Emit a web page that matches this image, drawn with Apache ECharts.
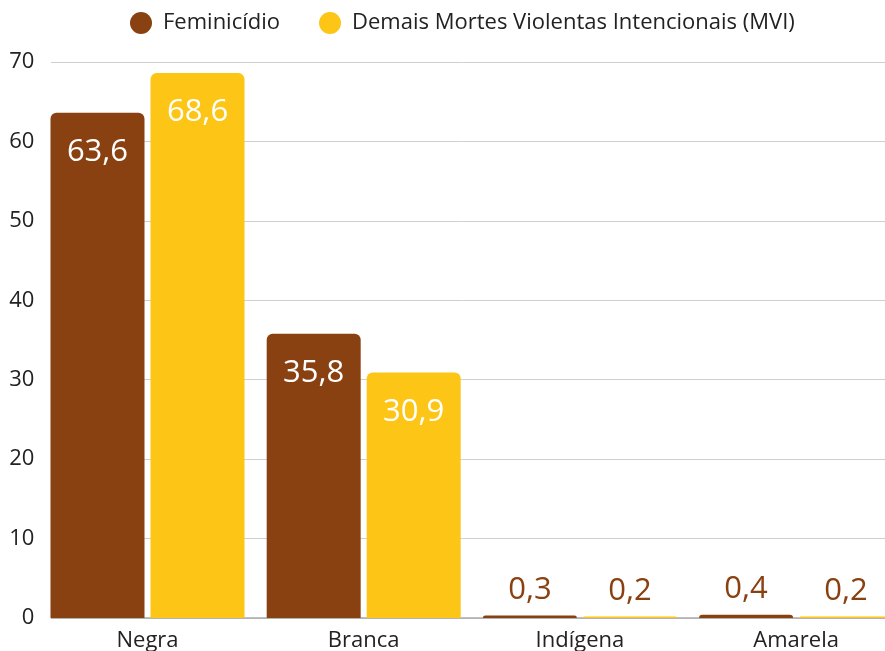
<!DOCTYPE html>
<html>
<head>
<meta charset="utf-8">
<script src="https://cdn.jsdelivr.net/npm/echarts@6/dist/echarts.min.js"></script>
<style>
  html, body { margin: 0; padding: 0; background: #fff; }
  #chart { width: 885px; height: 651px; }
</style>
</head>
<body>
<div id="chart"></div>
<script>
// Share of victims by race/colour (%)
const categories = ['Negra', 'Branca', 'Indígena', 'Amarela'];
const seriesNames = ['Feminicídio', 'Demais Mortes Violentas Intencionais (MVI)'];
const feminicidio = [63.6, 35.8, 0.3, 0.4];
const demaisMvi = [68.6, 30.9, 0.2, 0.2];
const yTicks = { min: 0, max: 70, interval: 10 };

const BROWN = '#8A4112';
const YELLOW = '#FDC516';
const fmt = v => String(v).replace('.', ',');

// Large bars get a white label inside the top; tiny bars get a brown label above
function buildData(values) {
  return values.map(v => {
    if (v >= 5) {
      return { value: v, label: { position: 'insideTop', distance: 24, color: '#fff' } };
    }
    return { value: v, label: { position: 'top', distance: 10, color: BROWN } };
  });
}

const labelBase = {
  show: true,
  fontFamily: 'Open Sans',
  fontSize: 31,
  formatter: p => fmt(p.value)
};

const chart = echarts.init(document.getElementById('chart'));
chart.setOption({
  animation: false,
  textStyle: { fontFamily: 'Open Sans' },
  legend: {
    top: 7,
    left: 125,
    icon: 'circle',
    itemWidth: 22,
    itemHeight: 22,
    itemGap: 39,
    textStyle: { fontSize: 22, color: '#222', padding: [0, 0, 0, 6] },
    data: seriesNames
  },
  // the plot runs past the right edge, so the last bar is cut off
  grid: { left: 39.4, right: -19.2, top: 62, bottom: 33, outerBoundsMode: 'none', containLabel: false },
  graphic: [{
    type: 'rect',
    z: 1,
    shape: { x: 38, y: 55, width: 13, height: 570 },
    style: { fill: '#fff' }
  }],
  xAxis: {
    type: 'category',
    data: categories,
    axisTick: { show: false },
    axisLine: { lineStyle: { color: '#aaa', width: 1.5 } },
    axisLabel: { fontSize: 22, color: '#222', margin: 12 }
  },
  yAxis: {
    type: 'value',
    min: yTicks.min,
    max: yTicks.max,
    interval: yTicks.interval,
    axisLine: { show: false },
    axisTick: { show: false },
    axisLabel: { fontSize: 22, color: '#222', margin: 5 },
    splitLine: { lineStyle: { color: '#cfcfcf', width: 1 } }
  },
  series: [
    {
      name: seriesNames[0],
      type: 'bar',
      barWidth: 94,
      barGap: '6.4%',
      itemStyle: { color: BROWN, borderRadius: [6, 6, 0, 0] },
      label: labelBase,
      data: buildData(feminicidio)
    },
    {
      name: seriesNames[1],
      type: 'bar',
      barWidth: 94,
      itemStyle: { color: YELLOW, borderRadius: [6, 6, 0, 0] },
      label: labelBase,
      data: buildData(demaisMvi)
    }
  ]
});
</script>
</body>
</html>
